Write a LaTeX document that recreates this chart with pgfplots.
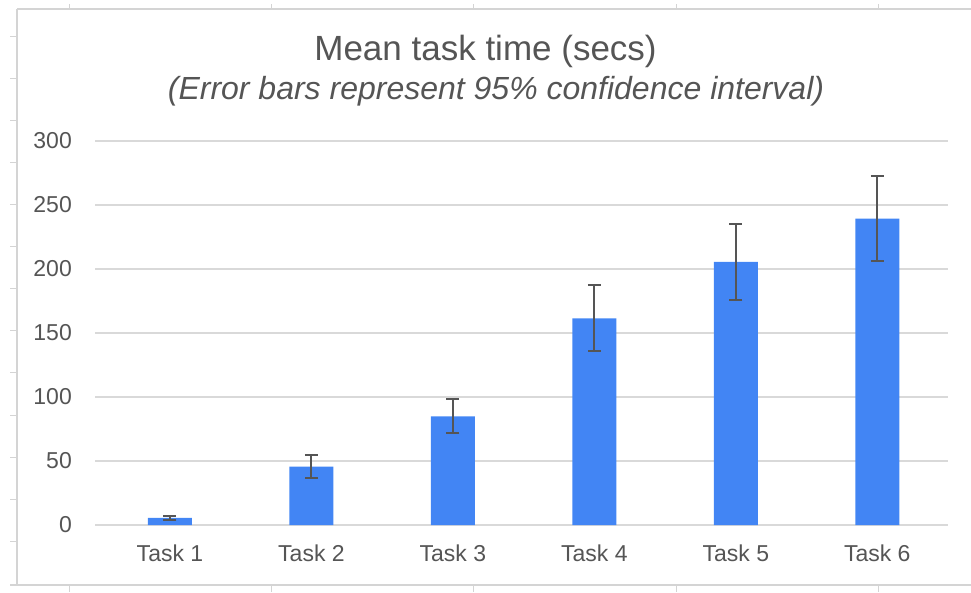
\documentclass[border=0pt]{standalone}
\usepackage{pgfplots}
\pgfplotsset{compat=1.18}
\usepackage{fontspec}
\setmainfont{Liberation Sans}
\definecolor{barblue}{HTML}{4285F4}
\definecolor{txt}{HTML}{555555}
\definecolor{gridc}{HTML}{D9D9D9}
\definecolor{errc}{HTML}{555555}
\definecolor{sheet}{HTML}{D4D4D4}
\begin{document}
\begin{tikzpicture}[x=1pt,y=1pt]
\path[use as bounding box] (0,0) rectangle (971,592);
% spreadsheet frame
\draw[sheet, line width=1.2pt] (17,583) -- (971,583);
\draw[sheet, line width=1.2pt] (17,583) -- (17,7);
\draw[sheet, line width=1.2pt] (10,7) -- (971,7);
\foreach \xx in {69,271,473,676,878} {
  \draw[sheet, line width=1pt] (\xx,583) -- (\xx,588);
  \draw[sheet, line width=1pt] (\xx,7) -- (\xx,0);
}
\foreach \yy in {37,79,121,163,205,247,289,331,373,415,457,499,541} {
  \draw[sheet, line width=1pt] (10,592-\yy) -- (17,592-\yy);
}
% titles
\node[anchor=base, text=txt, inner sep=0pt, font=\fontsize{35}{35}\selectfont] at (485.5,531) {Mean task time (secs)};
\node[anchor=base, text=txt, inner sep=0pt, font=\fontsize{32}{32}\selectfont\itshape] at (496,492) {(Error bars represent 95\% confidence interval)};
\begin{axis}[
  at={(95pt,67pt)}, anchor=south west,
  scale only axis, width=853pt, height=384pt,
  xmin=-0.53, xmax=5.5, ymin=0, ymax=300,
  ytick={0,50,...,300},
  xtick={0,...,5},
  xticklabels={Task 1,Task 2,Task 3,Task 4,Task 5,Task 6},
  axis line style={draw=none},
  major tick length=0pt,
  ymajorgrids, grid style={gridc, line width=1.3pt},
  /pgf/number format/assume math mode=true,
  ticklabel style={text=txt, font=\fontsize{23}{23}\selectfont},
  yticklabel style={anchor=east, inner sep=0pt, xshift=-23pt},
  xticklabel style={anchor=north, inner sep=0pt, yshift=-20pt},
  clip=false,
]
\addplot[ybar, bar width=44pt, fill=barblue, draw=none,
  error bars/.cd, y dir=both, y explicit,
  error bar style={errc, line width=2pt},
  error mark options={rotate=90, mark size=6.5pt, errc, line width=2pt}]
  coordinates {
    (0,5.5) +- (0,1.6)
    (1,45.7) +- (0,8.7)
    (2,84.8) +- (0,13.3)
    (3,161.4) +- (0,25.8)
    (4,205.5) +- (0,29.8)
    (5,239.3) +- (0,33.0)
  };
\end{axis}
\end{tikzpicture}
\end{document}
